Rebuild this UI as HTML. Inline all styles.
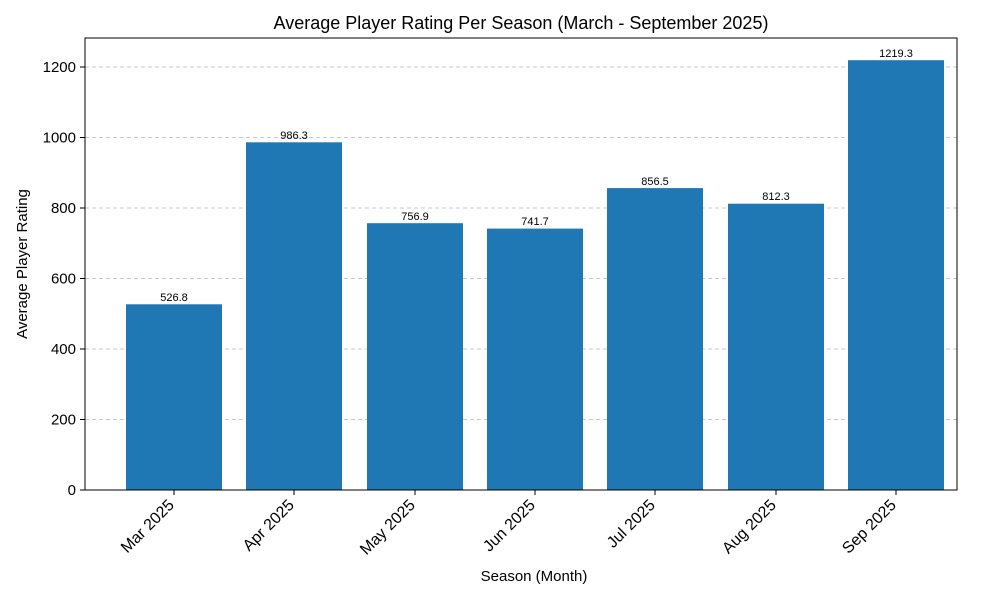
<!DOCTYPE html>
<html><head><meta charset="utf-8"><style>
body{margin:0;background:#fff;}
svg text{font-family:"Liberation Sans","DejaVu Sans",sans-serif;fill:#000;}
</style></head><body>
<svg width="1000" height="600" viewBox="0 0 1000 600" xmlns="http://www.w3.org/2000/svg">
<rect width="1000" height="600" fill="#fff"/>
<g stroke="#c8c8c8" stroke-dasharray="4,3" stroke-width="1">
<line x1="85" x2="957" y1="419.5" y2="419.5"/>
<line x1="85" x2="957" y1="349" y2="349"/>
<line x1="85" x2="957" y1="278.5" y2="278.5"/>
<line x1="85" x2="957" y1="208" y2="208"/>
<line x1="85" x2="957" y1="137.5" y2="137.5"/>
<line x1="85" x2="957" y1="67" y2="67"/>
</g>
<g fill="#1f77b4">
<rect x="126" y="304.3" width="96" height="185.7"/>
<rect x="246" y="142.3" width="96" height="347.7"/>
<rect x="367" y="223.2" width="96" height="266.8"/>
<rect x="487" y="228.6" width="96" height="261.4"/>
<rect x="607" y="188.1" width="96" height="301.9"/>
<rect x="728" y="203.7" width="96" height="286.3"/>
<rect x="848" y="60.2" width="96" height="429.8"/>
</g>
<g font-size="11" text-anchor="middle">
<text x="174" y="301">526.8</text>
<text x="294" y="139">986.3</text>
<text x="415" y="220">756.9</text>
<text x="535" y="225">741.7</text>
<text x="655" y="185">856.5</text>
<text x="776" y="200">812.3</text>
<text x="896" y="57">1219.3</text>
</g>
<rect x="85" y="38" width="872" height="452" fill="none" stroke="#000" stroke-width="1"/>
<g stroke="#000">
<line x1="80" x2="85" y1="490" y2="490"/><line x1="80" x2="85" y1="419.5" y2="419.5"/>
<line x1="80" x2="85" y1="349" y2="349"/><line x1="80" x2="85" y1="278.5" y2="278.5"/>
<line x1="80" x2="85" y1="208" y2="208"/><line x1="80" x2="85" y1="137.5" y2="137.5"/>
<line x1="80" x2="85" y1="67" y2="67"/>
<line x1="174" x2="174" y1="490" y2="495"/><line x1="294" x2="294" y1="490" y2="495"/>
<line x1="415" x2="415" y1="490" y2="495"/><line x1="535" x2="535" y1="490" y2="495"/>
<line x1="655" x2="655" y1="490" y2="495"/><line x1="776" x2="776" y1="490" y2="495"/>
<line x1="896" x2="896" y1="490" y2="495"/>
</g>
<g font-size="15" text-anchor="end">
<text x="76" y="495">0</text><text x="76" y="424.5">200</text><text x="76" y="354">400</text>
<text x="76" y="283.5">600</text><text x="76" y="213">800</text><text x="76" y="142.5">1000</text>
<text x="76" y="72">1200</text>
</g>
<g font-size="16" text-anchor="end">
<text transform="translate(175,506) rotate(-45)">Mar 2025</text>
<text transform="translate(295,506) rotate(-45)">Apr 2025</text>
<text transform="translate(416,506) rotate(-45)">May 2025</text>
<text transform="translate(536,506) rotate(-45)">Jun 2025</text>
<text transform="translate(656,506) rotate(-45)">Jul 2025</text>
<text transform="translate(777,506) rotate(-45)">Aug 2025</text>
<text transform="translate(897,506) rotate(-45)">Sep 2025</text>
</g>
<text x="521" y="29" font-size="18" text-anchor="middle">Average Player Rating Per Season (March - September 2025)</text>
<text x="534" y="581" font-size="15" text-anchor="middle">Season (Month)</text>
<text transform="translate(27,264) rotate(-90)" font-size="15" text-anchor="middle">Average Player Rating</text>
</svg>
</body></html>
